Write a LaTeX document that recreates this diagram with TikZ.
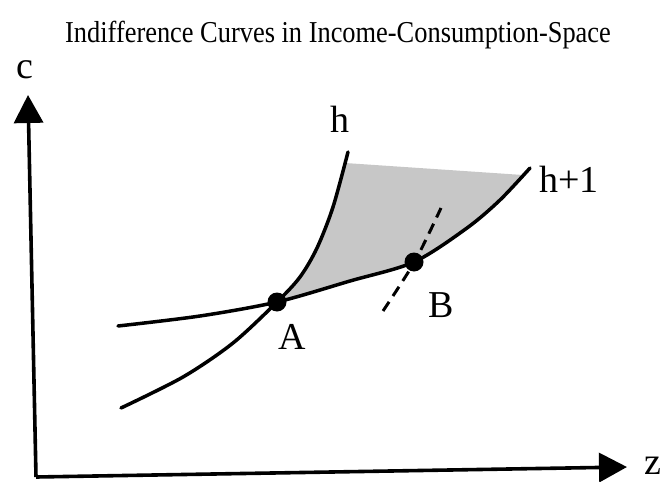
\documentclass[tikz,border=0pt]{standalone}
\usepackage{fontspec}
\setmainfont{Liberation Serif}
\usetikzlibrary{arrows.meta}
\tikzset{
  curve/.style={line width=3.5pt, line cap=round},
  axis/.style={line width=3.6pt, -{Triangle[length=28pt,width=29pt]}},
  dashline/.style={line width=3pt, dash pattern=on 11pt off 7pt},
  dot/.style={circle, fill=black, minimum size=19pt, inner sep=0pt},
  lab/.style={font=\fontsize{38}{40}\selectfont, anchor=base, inner sep=0pt},
  shade/.style={fill=black!22}
}
\begin{document}
\begin{tikzpicture}[x=1pt,y=-1pt]
\useasboundingbox (0,0) rectangle (668,481);
% title
\node[font=\fontsize{26.4}{28}\selectfont, anchor=base, inner sep=0pt] (title) at (338,43) {\scalebox{1}[1.15]{Indifference Curves in Income-Consumption-Space}};
% axes
\coordinate (O) at (36,477);
\coordinate (ctip) at (28,95);
\coordinate (ztip) at (627,467);
\draw[axis] (O) -- (ctip);
\draw[axis] (O) -- (ztip);
\node[lab] (c) at (25,79) {c};
\node[lab] (z) at (653,474) {z};
% shaded region
\fill[shade] plot[smooth] coordinates {(277,302) (300,277) (317,248) (333,207) (345,163)}
  -- (523,175)
  -- plot[smooth] coordinates {(523,175) (500,200) (467,228) (414,262) (350,281) (277,302)} -- cycle;
% curves
\draw[curve] plot[smooth] coordinates {(121,408) (183,377) (233,343) (277,302) (300,277) (317,248) (333,207) (348,152)};
\draw[curve] plot[smooth] coordinates {(118,326) (200,316) (277,302) (350,281) (414,262) (467,228) (500,200) (530,168)};
\draw[dashline] plot[smooth] coordinates {(383,311) (415,261) (441,208)};
% points
\node[dot] (A) at (277,302) {};
\node[dot] (B) at (414,262) {};
% labels
\node[lab] (hlab) at (340,133) {h};
\node[lab, anchor=base west] (h1lab) at (539,192) {h+1};
\node[lab] (Alab) at (292,349) {A};
\node[lab] (Blab) at (441,317) {B};
\end{tikzpicture}
\end{document}
